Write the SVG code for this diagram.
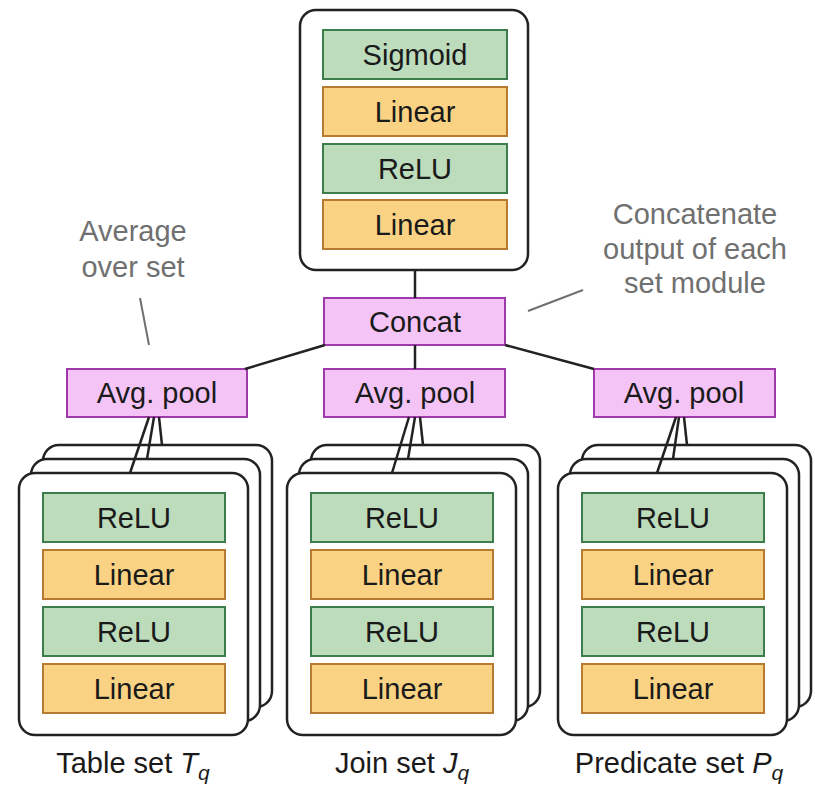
<svg xmlns="http://www.w3.org/2000/svg" width="815" height="787" viewBox="0 0 815 787">
<style>
  .box { fill: #ffffff; stroke: #222222; stroke-width: 2.5; }
  .g { fill: #bcdcbc; stroke: #3d7d4c; stroke-width: 2; }
  .o { fill: #f9d383; stroke: #b87a2e; stroke-width: 2; }
  .p { fill: #f4c4f7; stroke: #a03aaa; stroke-width: 2; }
  .t { font-family: "Liberation Sans", Arial, sans-serif; font-size: 29px; fill: #1a1a1a; text-anchor: middle; }
  .a { font-family: "Liberation Sans", Arial, sans-serif; font-size: 29px; fill: #707070; text-anchor: middle; }
  .c { stroke: #222222; stroke-width: 2.5; fill: none; }
  .al { stroke: #707070; stroke-width: 2; fill: none; }
</style>
<rect width="815" height="787" fill="#ffffff"/>

<g id="top-module">
  <rect class="box" x="300" y="10" width="228" height="260" rx="16"/>
  <rect class="g" x="323" y="30" width="184" height="49"/>
  <text class="t" x="415" y="65">Sigmoid</text>
  <rect class="o" x="323" y="87" width="184" height="49"/>
  <text class="t" x="415" y="122">Linear</text>
  <rect class="g" x="323" y="144" width="184" height="49"/>
  <text class="t" x="415" y="179">ReLU</text>
  <rect class="o" x="323" y="200" width="184" height="49"/>
  <text class="t" x="415" y="235">Linear</text>
</g>

<g id="concat">
  <rect class="p" x="324" y="298" width="181" height="47"/>
  <text class="t" x="415" y="332">Concat</text>
</g>

<g id="pool-table">
  <rect class="p" x="67" y="369" width="180" height="48"/>
  <text class="t" x="157" y="403">Avg. pool</text>
</g>
<g id="pool-join">
  <rect class="p" x="324" y="369" width="181" height="48"/>
  <text class="t" x="415" y="403">Avg. pool</text>
</g>
<g id="pool-predicate">
  <rect class="p" x="594" y="369" width="181" height="48"/>
  <text class="t" x="684" y="403">Avg. pool</text>
</g>

<g id="set-table">
  <rect class="box" x="43" y="445" width="229" height="262" rx="16"/>
  <rect class="box" x="31" y="459" width="229" height="262" rx="16"/>
  <rect class="box" x="19" y="473" width="229" height="262" rx="16"/>
  <rect class="g" x="43" y="493" width="182" height="49"/>
  <text class="t" x="134" y="528">ReLU</text>
  <rect class="o" x="43" y="550" width="182" height="49"/>
  <text class="t" x="134" y="585">Linear</text>
  <rect class="g" x="43" y="607" width="182" height="49"/>
  <text class="t" x="134" y="642">ReLU</text>
  <rect class="o" x="43" y="664" width="182" height="49"/>
  <text class="t" x="134" y="699">Linear</text>
</g>

<g id="set-join">
  <rect class="box" x="311" y="445" width="229" height="262" rx="16"/>
  <rect class="box" x="299" y="459" width="229" height="262" rx="16"/>
  <rect class="box" x="287" y="473" width="229" height="262" rx="16"/>
  <rect class="g" x="311" y="493" width="182" height="49"/>
  <text class="t" x="402" y="528">ReLU</text>
  <rect class="o" x="311" y="550" width="182" height="49"/>
  <text class="t" x="402" y="585">Linear</text>
  <rect class="g" x="311" y="607" width="182" height="49"/>
  <text class="t" x="402" y="642">ReLU</text>
  <rect class="o" x="311" y="664" width="182" height="49"/>
  <text class="t" x="402" y="699">Linear</text>
</g>

<g id="set-predicate">
  <rect class="box" x="582" y="445" width="229" height="262" rx="16"/>
  <rect class="box" x="570" y="459" width="229" height="262" rx="16"/>
  <rect class="box" x="558" y="473" width="229" height="262" rx="16"/>
  <rect class="g" x="582" y="493" width="182" height="49"/>
  <text class="t" x="673" y="528">ReLU</text>
  <rect class="o" x="582" y="550" width="182" height="49"/>
  <text class="t" x="673" y="585">Linear</text>
  <rect class="g" x="582" y="607" width="182" height="49"/>
  <text class="t" x="673" y="642">ReLU</text>
  <rect class="o" x="582" y="664" width="182" height="49"/>
  <text class="t" x="673" y="699">Linear</text>
</g>

<g id="labels">
  <text class="t" x="133" y="773">Table set <tspan font-style="italic">T</tspan><tspan font-style="italic" font-size="21" dy="7">q</tspan></text>
  <text class="t" x="402" y="773">Join set <tspan font-style="italic">J</tspan><tspan font-style="italic" font-size="21" dy="7">q</tspan></text>
  <text class="t" x="679" y="773">Predicate set <tspan font-style="italic">P</tspan><tspan font-style="italic" font-size="21" dy="7">q</tspan></text>
</g>

<g id="annotations">
  <text class="a" x="133" y="241">Average</text>
  <text class="a" x="133" y="277">over set</text>
  <text class="a" x="695" y="224">Concatenate</text>
  <text class="a" x="695" y="259">output of each</text>
  <text class="a" x="695" y="293">set module</text>
  <line class="al" x1="140" y1="298" x2="149" y2="345"/>
  <line class="al" x1="583" y1="290" x2="528" y2="311"/>
</g>

<g id="connectors">
  <line class="c" x1="415" y1="270" x2="415" y2="298"/>
  <line class="c" x1="325" y1="345" x2="245" y2="369"/>
  <line class="c" x1="415" y1="345" x2="415" y2="369"/>
  <line class="c" x1="505" y1="345" x2="594" y2="369"/>
  <line class="c" x1="149" y1="417" x2="130" y2="473"/>
  <line class="c" x1="154" y1="417" x2="147" y2="459"/>
  <line class="c" x1="159" y1="417" x2="162" y2="445"/>
  <line class="c" x1="409" y1="417" x2="392" y2="473"/>
  <line class="c" x1="415" y1="417" x2="408" y2="459"/>
  <line class="c" x1="420" y1="417" x2="423" y2="445"/>
  <line class="c" x1="676" y1="417" x2="657" y2="473"/>
  <line class="c" x1="679" y1="417" x2="673" y2="459"/>
  <line class="c" x1="684" y1="417" x2="687" y2="445"/>
</g>
</svg>
